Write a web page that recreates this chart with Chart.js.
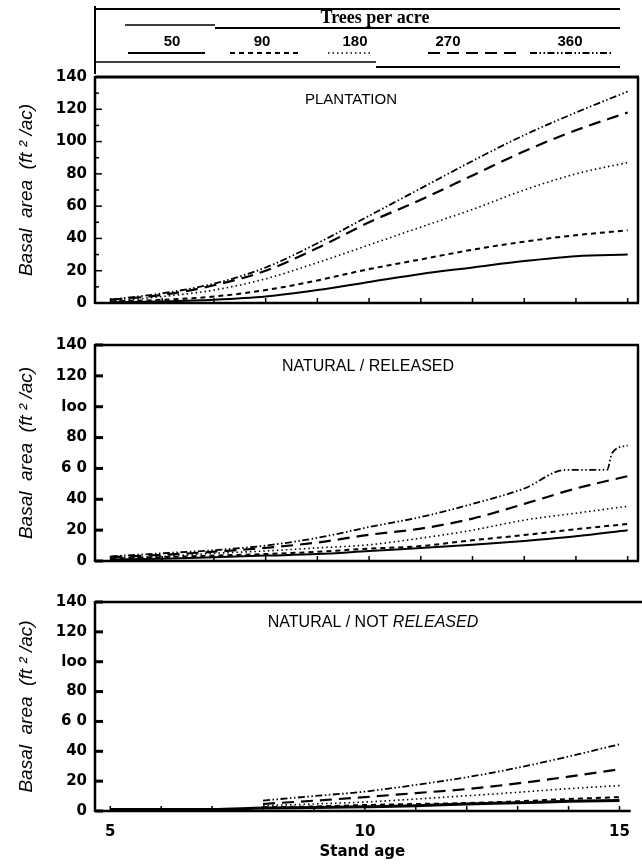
<!DOCTYPE html>
<html>
<head>
<meta charset="utf-8">
<script src="https://cdn.jsdelivr.net/npm/chart.js@4.4.0/dist/chart.umd.min.js"></script>
<style>
  body { margin: 0; background: #fff; }
  #wrap { position: relative; width: 642px; height: 868px; overflow: hidden; }
  canvas { position: absolute; left: 0; }
</style>
</head>
<body>
<div id="wrap">
  <canvas id="plantation" width="642" height="320" style="top:0"></canvas>
  <canvas id="released" width="642" height="260" style="top:320px"></canvas>
  <canvas id="notReleased" width="642" height="288" style="top:580px"></canvas>
</div>
<script>
const ages = [5, 6, 7, 8, 9, 10, 11, 12, 13, 14, 15];
const densities = ['50', '90', '180', '270', '360'];
const legendTitle = 'Trees per acre';

// PLANTATION
const plant50  = [0.5, 1, 2, 4, 8, 13, 18, 22, 26, 29, 30];
const plant90  = [1, 2, 4, 8, 14, 21, 27, 33, 38, 42, 45];
const plant180 = [1, 4, 8, 15, 25, 36, 47, 58, 70, 80, 87];
const plant270 = [2, 5, 11, 20, 34, 50, 64, 79, 94, 107, 118];
const plant360 = [2, 6, 12, 22, 37, 54, 71, 88, 104, 118, 131];

// NATURAL / RELEASED
const rel50  = [1, 1.5, 2.5, 3.5, 4.5, 6.5, 8.4, 10.5, 13, 16, 20];
const rel90  = [1.5, 2.5, 3.5, 4.5, 6, 8, 9.7, 13.5, 16.8, 20.6, 24];
const rel180 = [2, 3, 5, 6.5, 8.5, 10.5, 14.8, 20, 26.5, 31, 35.5];
const rel270 = [2.5, 4, 6, 8.5, 12, 17, 21, 27.5, 37, 47, 55];
const rel360Ages = [5, 6, 7, 8, 9, 10, 11, 12, 13, 13.8, 14.6, 14.7, 15];
const rel360 = [3, 5, 7, 10, 15, 22, 28.5, 37, 47, 59, 59, 70, 75];

// NATURAL / NOT RELEASED (only the 50 curve goes back to age 5)
const nrAges = [8, 9, 10, 11, 12, 13, 14, 15];
const nr50  = [1, 1, 1, 2, 2.3, 2.8, 3.5, 4.7, 5.5, 6.5, 7];
const nr90  = [2.5, 3, 4, 4.7, 5.3, 6.5, 8, 9.3];
const nr180 = [3.6, 4.7, 6, 8, 10.2, 12.5, 15, 17];
const nr270 = [4.7, 6.9, 9.3, 12, 14.7, 18.5, 23, 28];
const nr360 = [7, 10, 13, 17.5, 22.6, 29, 36.5, 44.7];

const yLabelsTop = ['0', '20', '40', '60', '80', '100', '120', '140'];
const yLabelsLow = ['0', '20', '40', '6 0', '80', 'loo', '120', '140'];
const xTicks = [5, 10, 15];

const styles = [
  { borderWidth: 2, borderDash: [] },
  { borderWidth: 2, borderDash: [5, 4] },
  { borderWidth: 1.6, borderDash: [1.5, 3] },
  { borderWidth: 2.2, borderDash: [12, 7] },
  { borderWidth: 1.8, borderDash: [7, 2.5, 1.5, 2.5, 1.5, 2.5] }
];

function series(xs, ys, i, extra) {
  return Object.assign({
    label: densities[i],
    data: xs.map((a, k) => ({ x: a, y: ys[k] })),
    borderColor: '#000',
    pointRadius: 0,
    fill: false,
    cubicInterpolationMode: 'monotone'
  }, styles[i], extra || {});
}

function line(ctx, x1, y1, x2, y2, w) {
  ctx.lineWidth = w;
  ctx.beginPath();
  ctx.moveTo(x1, y1);
  ctx.lineTo(x2, y2);
  ctx.stroke();
}

function drawLegend(chart) {
  const ctx = chart.ctx;
  const L = 95, R = 620;
  line(ctx, L, 6, L, 74, 2);
  line(ctx, L, 9, R, 9, 2);
  line(ctx, 125, 25, 215, 25, 1.5);
  line(ctx, 215, 28, R, 28, 2);
  line(ctx, L, 62, 376, 62, 1.5);
  line(ctx, 376, 67, R, 67, 2);
  ctx.fillStyle = '#000';
  ctx.textAlign = 'center';
  ctx.textBaseline = 'middle';
  ctx.font = 'bold 18px "Liberation Serif"';
  ctx.fillText(legendTitle, 375, 18);
  const cx = [172, 262, 355, 448, 570];
  const seg = [[128, 205], [230, 300], [328, 372], [428, 520], [530, 612]];
  ctx.font = 'bold 15px "Liberation Sans"';
  chart.data.datasets.forEach((ds, i) => {
    ctx.fillText(ds.label, cx[i], 42);
    ctx.setLineDash(ds.borderDash || []);
    line(ctx, seg[i][0], 53, seg[i][1], 53, ds.borderWidth);
    ctx.setLineDash([]);
  });
}

const paper = {
  id: 'paper',
  afterDraw(chart, args, o) {
    const { ctx, chartArea: a, scales: { x, y } } = chart;
    ctx.save();
    ctx.strokeStyle = '#000';
    ctx.setLineDash([]);
    line(ctx, a.left, a.top - 1, a.left, a.bottom + 1, 2.5);
    line(ctx, a.left, a.bottom, a.right + 1, a.bottom, 2.5);
    line(ctx, a.left, a.top, o.right ? a.right + 1 : chart.width, a.top, o.topWidth);
    if (o.right) line(ctx, a.right, a.top, a.right, a.bottom, 2.5);
    for (let v = 0; v <= 140; v += o.yStep) {
      const py = y.getPixelForValue(v);
      const major = v % 20 === 0;
      line(ctx, a.left, py, a.left + (major ? o.majorLen : 4), py, major ? o.majorWidth : 1.5);
    }
    for (let g = 5; g <= 15; g++) {
      const px = x.getPixelForValue(g);
      line(ctx, px, a.bottom, px, a.bottom - 5, 1.5);
    }
    // panel name inside the plot
    ctx.fillStyle = '#000';
    ctx.textBaseline = 'middle';
    ctx.textAlign = 'left';
    const fonts = o.label.map(p => (p.italic ? 'italic ' : '') + o.labelSize + 'px "Liberation Sans"');
    let total = 0;
    o.label.forEach((p, i) => { ctx.font = fonts[i]; total += ctx.measureText(p.text).width; });
    let px = o.labelX - total / 2;
    o.label.forEach((p, i) => {
      ctx.font = fonts[i];
      ctx.fillText(p.text, px, o.labelY - chart.canvas.offsetTop);
      px += ctx.measureText(p.text).width;
    });
    if (o.legend) drawLegend(chart);
    ctx.restore();
  }
};

const tickFont = { family: 'DejaVu Sans', size: 15, weight: 'bold' };

function makeChart(id, datasets, o) {
  return new Chart(document.getElementById(id), {
    type: 'line',
    data: { datasets: datasets },
    options: {
      responsive: false,
      animation: false,
      layout: { padding: { top: o.padTop, bottom: o.padBottom, left: 0, right: 4 } },
      plugins: {
        legend: { display: false },
        tooltip: { enabled: false },
        paper: o.paper
      },
      scales: {
        x: {
          type: 'linear', min: 4.7, max: 15.2,
          display: o.showX,
          grid: { display: false, drawTicks: false },
          border: { display: false },
          afterBuildTicks: s => { s.ticks = xTicks.map(v => ({ value: v })); },
          afterFit: s => { s.height = o.showX ? 57 : 0; },
          ticks: { font: tickFont, color: '#000', padding: 12, maxRotation: 0 },
          title: {
            display: true, text: 'Stand age', color: '#000', padding: 7,
            font: { family: 'DejaVu Sans', size: 15, weight: 'bold' }
          }
        },
        y: {
          min: 0, max: 140,
          afterFit: s => { s.width = 95; },
          grid: { display: false, drawTicks: false },
          border: { display: false },
          ticks: { stepSize: 20, padding: 8, font: tickFont, color: '#000', callback: v => o.yLabels[v / 20] },
          title: {
            display: true, text: 'Basal  area  (ft ² /ac)', color: '#000', padding: 15,
            font: { family: 'Liberation Sans', size: 19, style: 'italic' }
          }
        }
      }
    },
    plugins: [paper]
  });
}

makeChart('plantation', [
  series(ages, plant50, 0), series(ages, plant90, 1), series(ages, plant180, 2),
  series(ages, plant270, 3), series(ages, plant360, 4)
], {
  padTop: 77, padBottom: 14, showX: false, yLabels: yLabelsTop,
  paper: { topWidth: 3, right: true, yStep: 10, majorLen: 7, majorWidth: 1.5,
           label: [{ text: 'PLANTATION' }], labelSize: 15, labelX: 351, labelY: 100, legend: true }
});

makeChart('released', [
  series(ages, rel50, 0), series(ages, rel90, 1), series(ages, rel180, 2),
  series(ages, rel270, 3), series(rel360Ages, rel360, 4)
], {
  padTop: 25, padBottom: 19, showX: false, yLabels: yLabelsLow,
  paper: { topWidth: 2.5, right: true, yStep: 20, majorLen: 8, majorWidth: 3,
           label: [{ text: 'NATURAL / RELEASED' }], labelSize: 16, labelX: 368, labelY: 367 }
});

makeChart('notReleased', [
  series(ages, nr50, 0, { borderWidth: 3 }), series(nrAges, nr90, 1), series(nrAges, nr180, 2),
  series(nrAges, nr270, 3), series(nrAges, nr360, 4)
], {
  padTop: 22, padBottom: 0, showX: true, yLabels: yLabelsLow,
  paper: { topWidth: 2.5, right: false, yStep: 20, majorLen: 8, majorWidth: 3,
           label: [{ text: 'NATURAL / NOT ' }, { text: 'RELEASED', italic: true }],
           labelSize: 16, labelX: 373, labelY: 623 }
});
</script>
</body>
</html>
